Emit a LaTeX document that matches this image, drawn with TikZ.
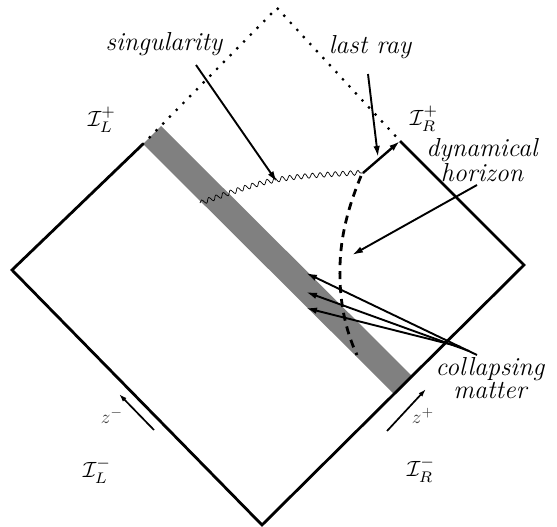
\documentclass[tikz,border=0pt]{standalone}
\usetikzlibrary{arrows.meta,decorations.pathmorphing}
\begin{document}
\begin{tikzpicture}[x=1pt,y=-1pt,
  edge/.style={line width=2.8pt, line join=miter},
  dotline/.style={line width=3.2pt, line cap=round, dash pattern=on 0pt off 9.6pt},
  lbl/.style={font=\rmfamily\itshape\fontsize{26}{18.5}\selectfont, align=center, inner sep=0pt},
  scri/.style={inner sep=0pt},
  zlbl/.style={inner sep=0pt, text=black!75},
  ptr/.style={line width=1.9pt, -{Latex[length=11pt,width=6.5pt]}},
  band/.style={fill=black!50, draw=none},
  horizon/.style={line width=2.8pt, dash pattern=on 8pt off 6pt},
  sing/.style={line width=0.7pt, decorate, decoration={snake, amplitude=2.4pt, segment length=7.6pt}}
]
\useasboundingbox (0,0) rectangle (557,527);
% corners
\coordinate (B) at (262,525);
\coordinate (L) at (12,270);
\coordinate (TL) at (143,144);
\coordinate (A) at (277,8);
\coordinate (TR) at (400,141);
\coordinate (R) at (524,265);
% band
\coordinate (b1) at (161,126);
\coordinate (b2) at (412,376);
\coordinate (b3) at (394,394);
\fill[band] (TL) -- (b1) -- (b2) -- (b3) -- cycle;
% outline
\draw[edge] (TL) -- (L) -- (B) -- (R) -- (TR);
\draw[dotline] (TL) -- (A) -- (TR);
% singularity
\coordinate (sgA) at (200,203);
\coordinate (sgB) at (363,173);
\draw[sing] (sgA) .. controls (272,178) .. (sgB);
% last ray
\draw[line width=2.4pt, -{Latex[length=11pt,width=6.5pt]}] (sgB) -- (TR);
% dynamical horizon
\coordinate (hzA) at (361,176);
\coordinate (hzM) at (340,280);
\coordinate (hzB) at (357,355);
\draw[horizon] (hzA) .. controls (345,215) and (339,245) .. (hzM) .. controls (341,315) and (350,340) .. (hzB);
% labels
\node[lbl, anchor=base] (lsing) at (164,51) {singularity};
\node[lbl, anchor=base] (lray) at (370,54) {last ray};
\node[lbl] (ldyn) at (482,160) {dynamical\\horizon};
\node[lbl] (lcol) at (490,378) {collapsing\\matter};
\node[scri] (ILp) at (102,120) {\scalebox{2.2}{$\mathcal{I}_L^+$}};
\node[scri] (IRp) at (424,119) {\scalebox{2.2}{$\mathcal{I}_R^+$}};
\node[scri] (ILm) at (97,471) {\scalebox{2.2}{$\mathcal{I}_L^-$}};
\node[scri] (IRm) at (421,470) {\scalebox{2.2}{$\mathcal{I}_R^-$}};
\node[zlbl] (zm) at (112,416) {\scalebox{1.9}{$z^-$}};
\node[zlbl] (zp) at (423,416) {\scalebox{1.9}{$z^+$}};
% pointer arrows
\coordinate (p1s) at (196,65);  \coordinate (p1e) at (277,182);
\coordinate (p2s) at (368,74);  \coordinate (p2e) at (378,157);
\coordinate (p3s) at (477,185); \coordinate (p3e) at (352,255);
\coordinate (p4s) at (477,355); \coordinate (p4e) at (306,273);
\coordinate (p5s) at (469,351); \coordinate (p5e) at (306,292);
\coordinate (p6s) at (461,347); \coordinate (p6e) at (306,308);
\draw[ptr] (p1s) -- (p1e);
\draw[ptr] (p2s) -- (p2e);
\draw[ptr] (p3s) -- (p3e);
\draw[ptr] (p4s) -- (p4e);
\draw[ptr] (p5s) -- (p5e);
\draw[ptr] (p6s) -- (p6e);
% z arrows
\coordinate (zms) at (154,430); \coordinate (zme) at (119,394);
\coordinate (zps) at (387,431); \coordinate (zpe) at (426,389);
\draw[line width=1.7pt, -{Latex[length=8pt,width=5pt]}] (zms) -- (zme);
\draw[line width=1.7pt, -{Latex[length=8pt,width=5pt]}] (zps) -- (zpe);
\end{tikzpicture}
\end{document}
